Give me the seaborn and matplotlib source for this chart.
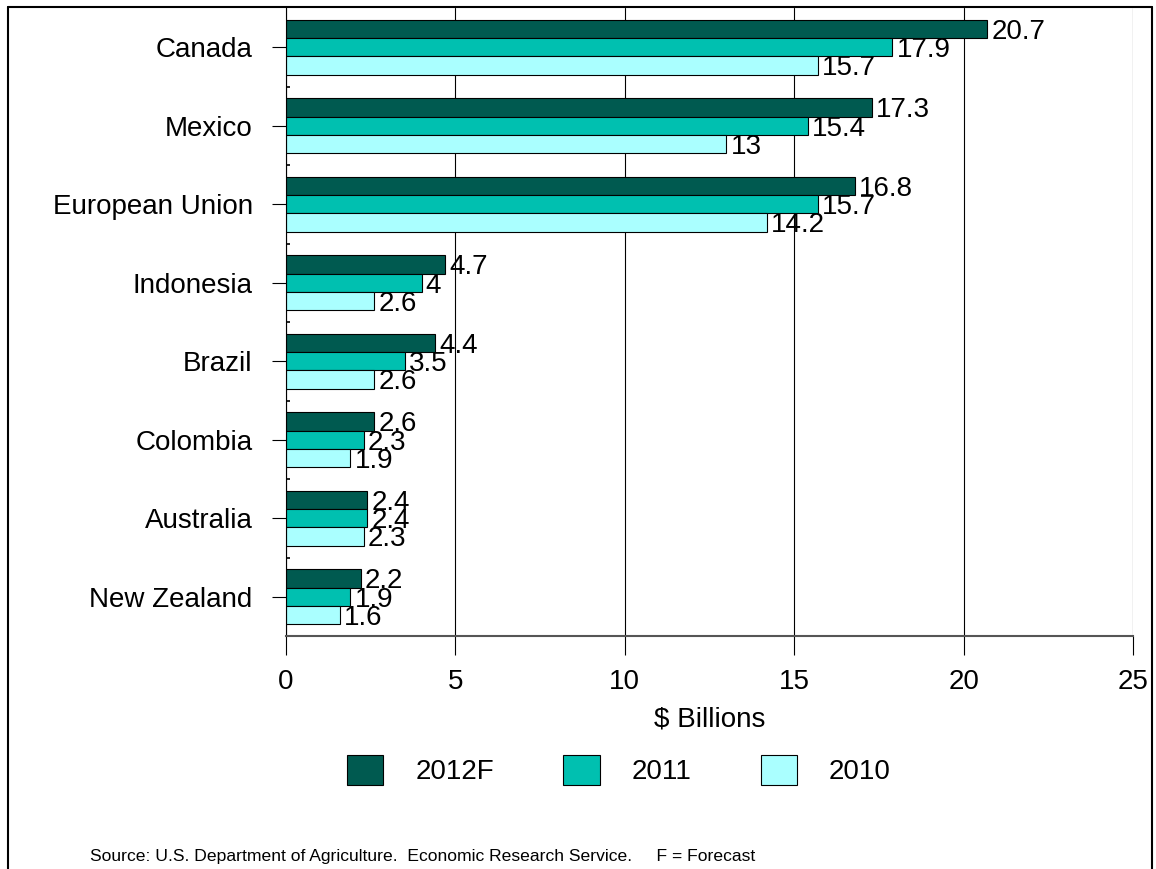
#!/usr/bin/env python3

import numpy as np
import pandas as pd
import seaborn as sns
import matplotlib.pyplot as plt
from matplotlib.lines import Line2D
from matplotlib.ticker import FixedLocator

# data ($ billions)
countries = ['Canada', 'Mexico', 'European Union', 'Indonesia', 'Brazil',
             'Colombia', 'Australia', 'New Zealand']
years = ['2012F', '2011', '2010']
v2012 = [20.7, 17.3, 16.8, 4.7, 4.4, 2.6, 2.4, 2.2]
v2011 = [17.9, 15.4, 15.7, 4.0, 3.5, 2.3, 2.4, 1.9]
v2010 = [15.7, 13.0, 14.2, 2.6, 2.6, 1.9, 2.3, 1.6]
colors = ['#005A50', '#00C0B0', '#AAFFFF']
source = 'Source: U.S. Department of Agriculture.  Economic Research Service.     F = Forecast'

# long format table for seaborn
df = pd.DataFrame({
    'country': countries * 3,
    'year': [years[0]] * 8 + [years[1]] * 8 + [years[2]] * 8,
    'value': v2012 + v2011 + v2010,
})

sns.set_style('white')
plt.rcParams['font.family'] = ['Liberation Sans', 'DejaVu Sans']
plt.rcParams['text.color'] = 'black'
plt.rcParams['axes.labelcolor'] = 'black'
plt.rcParams['xtick.color'] = 'black'
plt.rcParams['ytick.color'] = 'black'

fig = plt.figure(figsize=(11.56, 8.69), dpi=100)
ax = fig.add_axes([286 / 1156, 1 - 636 / 869, (1133 - 286) / 1156, (636 - 8) / 869])

sns.barplot(data=df, y='country', x='value', hue='year', orient='h',
            order=countries, hue_order=years, palette=colors, saturation=1,
            width=0.7, edgecolor='black', linewidth=0.8, ax=ax)

# value labels at the bar ends
for cont in ax.containers:
    for p in cont:
        w = p.get_width()
        ax.annotate('%g' % w, (w, p.get_y() + p.get_height() / 2),
                    xytext=(3, -2), textcoords='offset points',
                    ha='left', va='center', fontsize=20)

ax.set_xlim(0, 25)
ax.set_ylim(7.5, -0.5)
ax.set_xticks([0, 5, 10, 15, 20, 25])
ax.xaxis.grid(True, color='black', linewidth=0.8)
ax.set_axisbelow(True)
ax.tick_params(axis='x', length=14, width=0.8, color='black', direction='out',
               labelsize=20, pad=10, bottom=True)
ax.tick_params(axis='y', length=10, width=0.8, color='black', direction='out',
               labelsize=20, pad=14, left=True)
ax.yaxis.set_minor_locator(FixedLocator(np.arange(0.5, 7.5, 1)))
ax.tick_params(axis='y', which='minor', length=3, width=1.2, direction='in', left=True)
ax.set_ylabel('')
ax.set_xlabel('$ Billions', fontsize=20, labelpad=8)

for s in ['top', 'right']:
    ax.spines[s].set_visible(False)
ax.spines['left'].set_color('black')
ax.spines['left'].set_linewidth(0.8)
ax.spines['bottom'].set_color('#555555')
ax.spines['bottom'].set_linewidth(1.5)

# legend below the axis
handles, labels = ax.get_legend_handles_labels()
ax.get_legend().remove()
fig.legend(handles, labels, loc='center', bbox_to_anchor=(0.5355, 0.114), ncol=3,
           frameon=False, fontsize=20, handlelength=1.3, handleheight=1.3,
           handletextpad=1.15, columnspacing=2.5)

fig.text(90 / 1156, 1 - 856 / 869, source, fontsize=12.6, va='center', ha='left')

# outer frame, open at the bottom
fw = 1.5
fig.add_artist(Line2D([8 / 1156, 8 / 1156], [0, 1 - 7 / 869], color='black', linewidth=fw))
fig.add_artist(Line2D([8 / 1156, 1152 / 1156], [1 - 7 / 869, 1 - 7 / 869], color='black', linewidth=fw))
fig.add_artist(Line2D([1152 / 1156, 1152 / 1156], [0, 1 - 7 / 869], color='black', linewidth=fw))

fig.savefig('out.png', dpi=100)
